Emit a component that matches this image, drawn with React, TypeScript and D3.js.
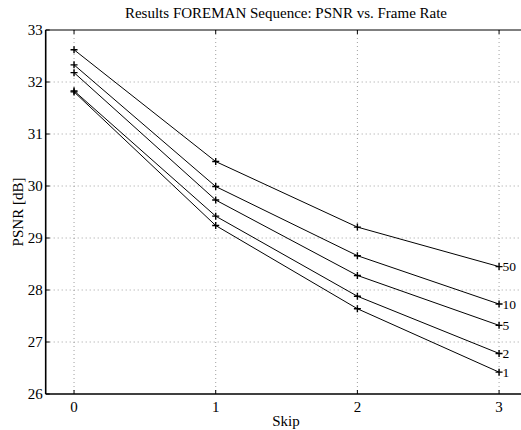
import React, { useEffect, useRef } from 'react';
import * as d3 from 'd3';

const skips = [0, 1, 2, 3];
const seriesNames = ['50', '10', '5', '2', '1'];
const psnr50 = [32.62, 30.47, 29.21, 28.45];
const psnr10 = [32.33, 29.99, 28.66, 27.73];
const psnr5 = [32.18, 29.73, 28.28, 27.32];
const psnr2 = [31.83, 29.42, 27.88, 26.78];
const psnr1 = [31.81, 29.24, 27.64, 26.42];
const yTicks = [26, 27, 28, 29, 30, 31, 32, 33];

function App() {
  const svgRef = useRef<SVGSVGElement>(null);

  useEffect(() => {
    const width = 521;
    const height = 430;
    const svg = d3.select(svgRef.current)
      .attr('width', width)
      .attr('height', height)
      .style('display', 'block')
      .style('background', '#fff')
      .style('font-family', '"Liberation Serif", "Times New Roman", serif');
    svg.selectAll('*').remove();

    const x = d3.scaleLinear().domain([-0.2, 3.2]).range([45.7, 527.4]);
    const y = d3.scaleLinear().domain([26, 33]).range([394, 30]);

    const series = [psnr50, psnr10, psnr5, psnr2, psnr1];
    const grid = svg.append('g');

    // dotted grid
    grid.selectAll('.hg')
      .data(yTicks.slice(1, -1))
      .enter()
      .append('line')
      .attr('x1', x(-0.2)).attr('x2', x(3.2))
      .attr('y1', d => y(d)).attr('y2', d => y(d))
      .attr('stroke', '#888').attr('stroke-width', 0.8)
      .attr('stroke-dasharray', '1,3');
    grid.selectAll('.vg')
      .data(skips)
      .enter()
      .append('line')
      .attr('x1', d => x(d)).attr('x2', d => x(d))
      .attr('y1', y(33)).attr('y2', y(26))
      .attr('stroke', '#888').attr('stroke-width', 0.8)
      .attr('stroke-dasharray', '1,3');

    // tick marks (inside)
    grid.selectAll('.xt')
      .data(skips)
      .enter()
      .append('g')
      .each(function (d) {
        const g = d3.select(this);
        g.append('line').attr('x1', x(d)).attr('x2', x(d)).attr('y1', y(26)).attr('y2', y(26) - 4).attr('stroke', '#000');
        g.append('line').attr('x1', x(d)).attr('x2', x(d)).attr('y1', y(33)).attr('y2', y(33) + 4).attr('stroke', '#000');
      });
    grid.selectAll('.yt')
      .data(yTicks)
      .enter()
      .append('line')
      .attr('x1', x(-0.2)).attr('x2', x(-0.2) + 4)
      .attr('y1', d => y(d)).attr('y2', d => y(d))
      .attr('stroke', '#000');

    // frame
    svg.append('line')
      .attr('x1', x(-0.2)).attr('x2', width)
      .attr('y1', y(33)).attr('y2', y(33))
      .attr('stroke', '#000').attr('stroke-width', 1);
    svg.append('line')
      .attr('x1', x(-0.2)).attr('x2', x(-0.2))
      .attr('y1', y(33)).attr('y2', y(26))
      .attr('stroke', '#000').attr('stroke-width', 1.6);
    svg.append('line')
      .attr('x1', x(-0.2)).attr('x2', width)
      .attr('y1', y(26)).attr('y2', y(26))
      .attr('stroke', '#000').attr('stroke-width', 1.6);

    // tick labels
    svg.selectAll('.xl')
      .data(skips)
      .enter()
      .append('text')
      .attr('x', d => x(d)).attr('y', 412)
      .attr('text-anchor', 'middle')
      .attr('font-size', 15)
      .text(d => d);
    svg.selectAll('.yl')
      .data(yTicks)
      .enter()
      .append('text')
      .attr('x', x(-0.2) - 3).attr('y', d => y(d) + 5)
      .attr('text-anchor', 'end')
      .attr('font-size', 15)
      .text(d => d);

    // lines + markers
    const line = d3.line<number>()
      .x((d, i) => x(skips[i]))
      .y(d => y(d));

    series.forEach((vals, si) => {
      svg.append('path')
        .attr('d', line(vals))
        .attr('fill', 'none')
        .attr('stroke', '#000')
        .attr('stroke-width', 1);
      svg.selectAll(null)
        .data(vals)
        .enter()
        .append('path')
        .attr('d', (d, i) => {
          const cx = x(skips[i]);
          const cy = y(d);
          return `M${cx - 3.5},${cy}H${cx + 3.5}M${cx},${cy - 3.5}V${cy + 3.5}`;
        })
        .attr('stroke', '#000')
        .attr('stroke-width', 1.4);
      svg.append('text')
        .attr('x', x(3) + 3.5)
        .attr('y', y(vals[vals.length - 1]) + 4.5)
        .attr('font-size', 13.5)
        .text(seriesNames[si]);
    });

    // titles
    svg.append('text')
      .attr('x', 286).attr('y', 18)
      .attr('text-anchor', 'middle')
      .attr('font-size', 15)
      .text('Results FOREMAN Sequence: PSNR vs. Frame Rate');
    svg.append('text')
      .attr('x', 286).attr('y', 426)
      .attr('text-anchor', 'middle')
      .attr('font-size', 15)
      .text('Skip');
    svg.append('text')
      .attr('transform', `translate(23, ${y(29.5)}) rotate(-90)`)
      .attr('text-anchor', 'middle')
      .attr('font-size', 15)
      .text('PSNR [dB]');
  }, []);

  return (
    <div style={{ position: 'absolute', left: 0, top: 0 }}>
      <svg ref={svgRef}></svg>
    </div>
  );
}

export default App;
